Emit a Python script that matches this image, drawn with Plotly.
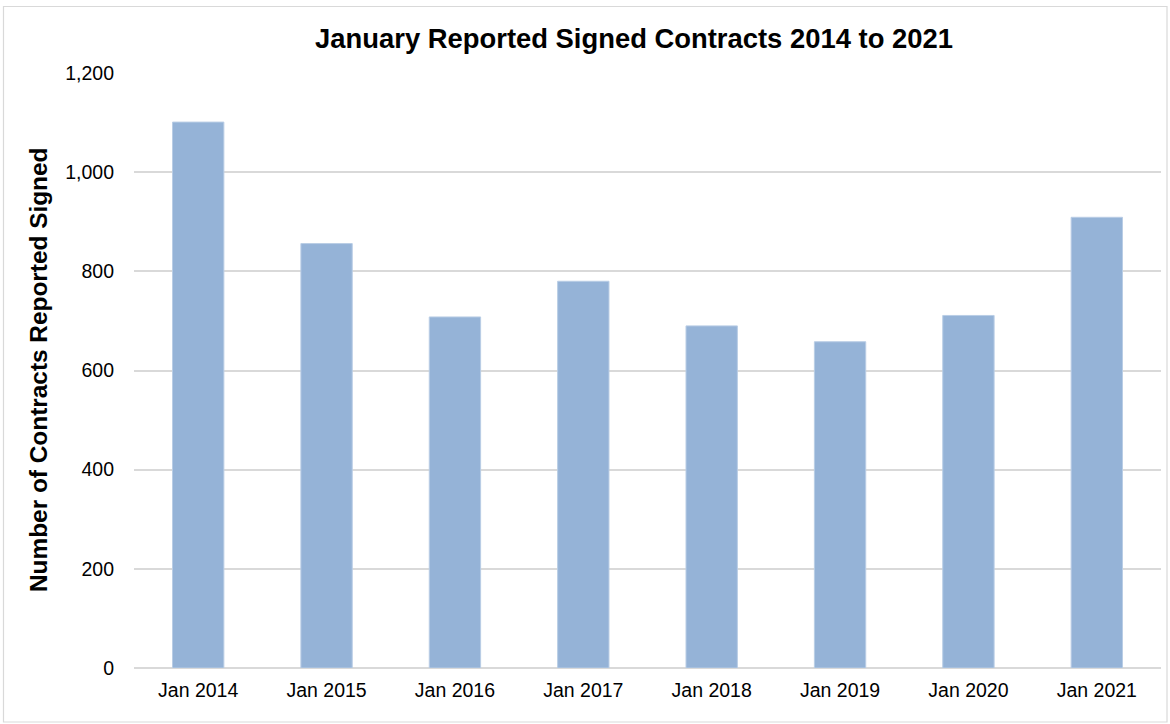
import plotly.graph_objects as go

categories = ["Jan 2014", "Jan 2015", "Jan 2016", "Jan 2017", "Jan 2018", "Jan 2019", "Jan 2020", "Jan 2021"]
contracts = [1101, 856, 708, 780, 690, 658, 711, 909]
y_ticks = [0, 200, 400, 600, 800, 1000, 1200]
y_tick_labels = ["0", "200", "400", "600", "800", "1,000", "1,200"]

W, H = 1170, 724
L, R, T, B = 134, 9, 73, 56
pw, ph = W - L - R, H - T - B

def px_x(p):
    return (p - L) / pw

def px_y(p):
    return (H - B - p) / ph

fig = go.Figure(go.Bar(
    x=categories, y=contracts,
    marker=dict(color="#95B3D7", line=dict(color="#B9CDE5", width=1)),
    width=0.4,
))

fig.update_layout(
    width=W, height=H,
    margin=dict(l=L, r=R, t=T, b=B),
    paper_bgcolor="white", plot_bgcolor="white",
    font=dict(family="Liberation Sans, Arial, sans-serif", color="#000000", size=19.5),
    showlegend=False,
    title=dict(
        text="<b>January Reported Signed Contracts 2014 to 2021</b>",
        x=634 / W, xref="container", xanchor="center",
        y=1 - 38 / H, yref="container", yanchor="middle",
        font=dict(size=27.4, color="#000000"),
    ),
    xaxis=dict(
        showgrid=False, showline=False, zeroline=False,
        ticks="", ticklabelstandoff=8,
        tickfont=dict(size=19.5),
    ),
    yaxis=dict(
        range=[0, 1200], tickvals=y_ticks, ticktext=y_tick_labels,
        showgrid=True, gridcolor="#D9D9D9", gridwidth=1.5,
        zeroline=True, zerolinecolor="#D9D9D9", zerolinewidth=2,
        showline=False, ticks="", ticklabelstandoff=19,
        tickfont=dict(size=19.5),
    ),
    annotations=[dict(
        text="<b>Number of Contracts Reported Signed</b>",
        textangle=-90, showarrow=False,
        xref="paper", yref="paper",
        x=px_x(38), y=px_y(370), xanchor="center", yanchor="middle",
        font=dict(size=24.4, color="#000000"),
    )],
    shapes=[dict(
        type="rect", xref="paper", yref="paper",
        x0=px_x(3.5), x1=px_x(1167), y0=px_y(722), y1=px_y(6.5),
        line=dict(color="#D9D9D9", width=1.2), fillcolor="rgba(0,0,0,0)",
        layer="below",
    )],
)

fig.write_html("out.html", config={"displayModeBar": False},
               post_script="document.body.style.margin='0';")
